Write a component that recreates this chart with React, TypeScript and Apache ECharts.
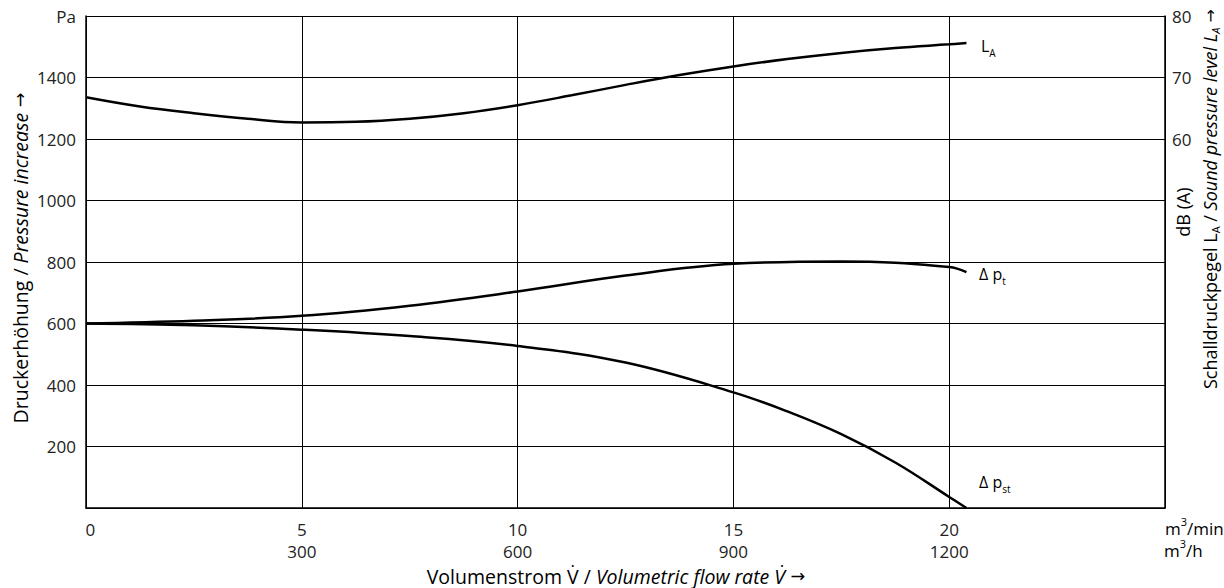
import React, { useEffect, useRef } from "react";
import * as echarts from "echarts";

// Flow rate in m³/min
const laFlow = [0, 1.25, 2.5, 3.75, 5, 6.25, 7.5, 8.75, 10, 11.25, 12.5, 13.75, 15, 16.25, 17.5, 18.75, 20, 20.4];
// Sound pressure level LA in dB(A)
const laDb = [66.8, 65.3, 64.2, 63.3, 62.7, 62.8, 63.3, 64.2, 65.5, 67.1, 68.8, 70.4, 71.8, 73.0, 74.0, 74.8, 75.4, 75.6];

const ptFlow = [0, 2.5, 5, 7.5, 10, 12.5, 15, 17.5, 20, 20.4];
// Total pressure increase Δpt in Pa
const ptPa = [600, 609, 625, 658, 704, 756, 794, 802, 784, 767];

const pstFlow = [0, 2.5, 5, 7.5, 10, 12.5, 15, 16.25, 17.5, 18.75, 20, 20.4];
// Static pressure increase Δpst in Pa
const pstPa = [600, 594, 580, 559, 527, 473, 376, 314, 240, 148, 36, 0];

const xTicks = [0, 5, 10, 15, 20];
const yTicks = [200, 400, 600, 800, 1000, 1200, 1400];
const dbTicks = [60, 70, 80];

const FONT = "'Open Sans', 'Noto Sans', sans-serif";
const ARROW_FONT = "'DejaVu Sans', sans-serif";
const TXT = "#222";

export default function App() {
  const ref = useRef<HTMLDivElement>(null);
  useEffect(() => {
    if (!ref.current) return;
    const chart = echarts.init(ref.current, undefined, { renderer: "svg" });
    const toPairs = (xs: number[], ys: number[]) => xs.map((x, i) => [x, ys[i]]);
    const lineStyle = { color: "#000", width: 2.5 };
    const mk = (fs: number, lh: number) => {
      const n = { fontSize: fs, fontFamily: FONT, color: TXT, lineHeight: lh };
      const sub = { fontSize: Math.round(fs * 0.62), fontFamily: FONT, color: TXT, verticalAlign: "bottom", lineHeight: Math.round(fs * 0.62) + 3 };
      return {
        n,
        i: { ...n, fontStyle: "italic" },
        s: sub,
        is: { ...sub, fontStyle: "italic" },
        a: { ...n, fontFamily: ARROW_FONT, fontSize: fs - 2 },
        sup: { ...sub, verticalAlign: "top" },
      };
    };
    const r16 = mk(16, 24);
    const r17 = mk(17, 25);
    const r19 = mk(19.5, 22);
    const r18 = mk(18, 22);
    const tick = { fontSize: 17, fontFamily: FONT, color: TXT };
    chart.setOption({
      animation: false,
      grid: { left: 86, right: 59, top: 16, bottom: 80, containLabel: false },
      xAxis: {
        type: "value",
        min: 0,
        max: 25,
        interval: 5,
        axisLine: { show: true, lineStyle: { color: "#000", width: 1.5 } },
        axisTick: { show: false },
        splitLine: { show: true, lineStyle: { color: "#000", width: 1 } },
        axisLabel: {
          ...tick,
          margin: 10,
          lineHeight: 22,
          formatter: (v: number) => (xTicks.includes(v) ? (v === 0 ? "  0\n " : `${v}\n${v * 60}`) : ""),
        },
      },
      yAxis: [
        {
          type: "value",
          min: 0,
          max: 1600,
          interval: 200,
          axisLine: { show: true, lineStyle: { color: "#000", width: 1.5 } },
          axisTick: { show: false },
          splitLine: { show: true, lineStyle: { color: "#000", width: 1 } },
          axisLabel: {
            ...tick,
            margin: 10,
            formatter: (v: number) => (v === 1600 ? "Pa" : yTicks.includes(v) ? String(v) : ""),
          },
        },
        {
          type: "value",
          position: "right",
          min: 0,
          max: 80,
          interval: 10,
          axisLine: { show: true, lineStyle: { color: "#000", width: 1.5 } },
          axisTick: { show: false },
          splitLine: { show: false },
          axisLabel: {
            ...tick,
            margin: 7,
            formatter: (v: number) => (dbTicks.includes(v) ? String(v) : ""),
          },
        },
      ],
      series: [
        { type: "line", name: "LA", yAxisIndex: 1, data: toPairs(laFlow, laDb), smooth: 0.4, showSymbol: false, lineStyle },
        { type: "line", name: "Δpt", yAxisIndex: 0, data: toPairs(ptFlow, ptPa), smooth: 0.4, showSymbol: false, lineStyle },
        { type: "line", name: "Δpst", yAxisIndex: 0, data: toPairs(pstFlow, pstPa), smooth: 0.4, showSymbol: false, lineStyle },
      ],
      graphic: [
        { type: "text", left: 981, top: 38, style: { text: "{n|L}{s|A}", rich: r16 } },
        { type: "text", left: 979, top: 266, style: { text: "{n|Δ p}{s|t}", rich: r16 } },
        { type: "text", left: 979, top: 474, style: { text: "{n|Δ p}{s|st}", rich: r16 } },
        { type: "text", left: 1165, top: 516, style: { text: "{n|m}{sup|3}{n|/min}", rich: r17 } },
        { type: "text", left: 1164, top: 538, style: { text: "{n|m}{sup|3}{n|/h}", rich: r17 } },
        {
          type: "text",
          x: 616,
          y: 576,
          style: {
            text: "{n|Volumenstrom V̇ / }{i|Volumetric flow rate V̇}{a| →}",
            rich: r19,
            align: "center",
            verticalAlign: "middle",
          },
        },
        {
          type: "text",
          x: 20,
          y: 258,
          rotation: Math.PI / 2,
          style: {
            text: "{n|Druckerhöhung / }{i|Pressure increase}{a| →}",
            rich: r19,
            align: "center",
            verticalAlign: "middle",
          },
        },
        {
          type: "text",
          x: 1183,
          y: 212,
          rotation: Math.PI / 2,
          style: { text: "{n|dB (A)}", rich: r18, align: "center", verticalAlign: "middle" },
        },
        {
          type: "text",
          x: 1210,
          y: 199,
          rotation: Math.PI / 2,
          style: {
            text: "{n|Schalldruckpegel L}{s|A}{n| / }{i|Sound pressure level L}{is|A}{a| →}",
            rich: r18,
            align: "center",
            verticalAlign: "middle",
          },
        },
      ],
    });
    return () => chart.dispose();
  }, []);
  return <div ref={ref} style={{ position: "fixed", left: 0, top: 0, width: 1224, height: 588, background: "#fff" }} />;
}
